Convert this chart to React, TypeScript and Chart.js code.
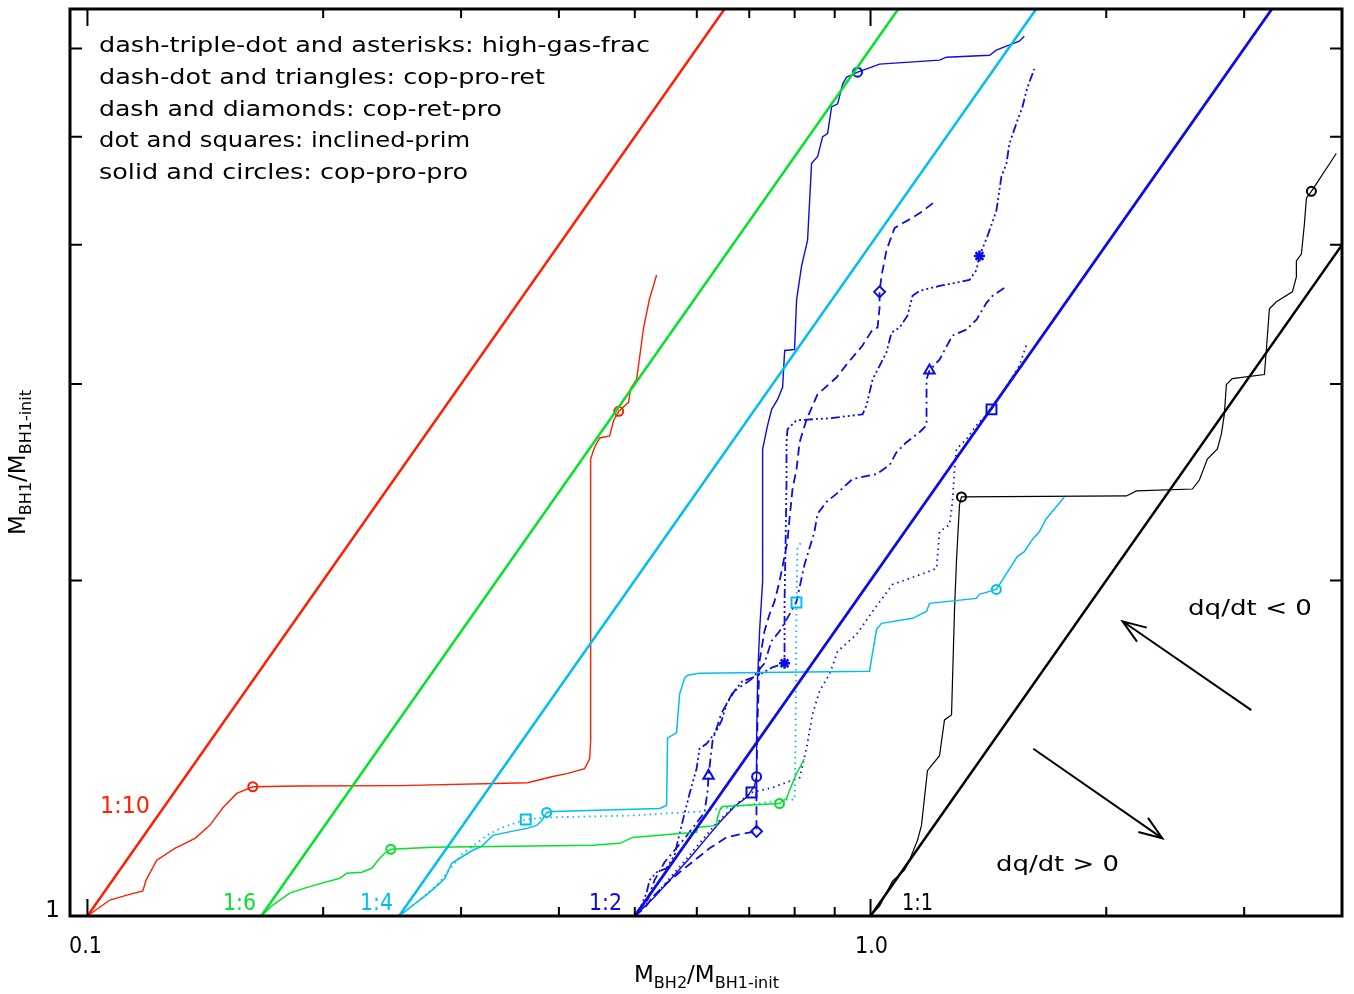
import React, { useEffect, useRef } from "react";
import { Chart, registerables } from "chart.js";

Chart.register(...registerables);

type Pt = [number, number];

const FONT = '"DejaVu Sans", "Liberation Sans", sans-serif';

const X_MIN = 0.095;
const X_MAX = 4;
const Y_MIN = 1;
const Y_MAX = 6.51;

const xTickValues = [0.1, 0.2, 0.3, 0.4, 0.5, 0.6, 0.7, 0.8, 0.9, 1, 2, 3];
const xMajorTicks = [0.1, 1];
const yTickValues = [2, 3, 4, 5, 6];
const xTickLabels = ["0.1", "1.0"];
const yTickLabels = ["1"];
const ratioLabels = ["1:10", "1:6", "1:4", "1:2", "1:1"];
const legendLines = [
  "dash-triple-dot and asterisks: high-gas-frac",
  "dash-dot and triangles: cop-pro-ret",
  "dash and diamonds: cop-ret-pro",
  "dot and squares: inclined-prim",
  "solid and circles: cop-pro-pro",
];
const arrowLabels = ["dq/dt < 0", "dq/dt > 0"];

const RED = "rgb(255,30,0)";
const GREEN = "rgb(0,228,40)";
const CYAN = "rgb(0,190,240)";
const BLUE = "rgb(12,12,230)";
const BLACK = "#000";

// constant mass-ratio lines
const ratio10: Pt[] = [[0.1, 1], [0.7, 7]];
const ratio6: Pt[] = [[0.1667, 1], [1.1667, 7]];
const ratio4: Pt[] = [[0.25, 1], [1.75, 7]];
const ratio2: Pt[] = [[0.5, 1], [3.5, 7]];
const ratio1: Pt[] = [[1, 1], [7, 7]];

// arrows (tail, tip) in data units
const arrowUp: Pt[] = [[3.064, 1.53], [2.098, 1.838]];
const arrowDown: Pt[] = [[1.614, 1.4125], [2.359, 1.174]];

// 1:10 cop-pro-pro
const redSolid: Pt[] = [[0.1, 1], [0.1068, 1.0335], [0.1123, 1.0441], [0.1177, 1.053], [0.1188, 1.077], [0.1226, 1.122], [0.1293, 1.15], [0.1372, 1.174], [0.1433, 1.206], [0.149, 1.251], [0.1551, 1.288], [0.1626, 1.306], [0.1867, 1.308], [0.2506, 1.309], [0.3649, 1.317], [0.3928, 1.334], [0.4093, 1.342], [0.4315, 1.356], [0.4379, 1.384], [0.4391, 1.436], [0.4391, 1.915], [0.4391, 2.57], [0.4443, 2.634], [0.451, 2.684], [0.4644, 2.695], [0.4699, 2.784], [0.4769, 2.836], [0.491, 2.889], [0.4939, 2.973], [0.5027, 3.029], [0.5131, 3.372], [0.5222, 3.578], [0.5331, 3.758]];
const redCircles: Pt[] = [[0.1626, 1.306], [0.4769, 2.836]];

// 1:6 cop-pro-pro
const greenSolid: Pt[] = [[0.1667, 1], [0.1725, 1.0229], [0.1813, 1.0484], [0.1895, 1.0593], [0.1992, 1.0702], [0.2101, 1.0812], [0.2144, 1.0924], [0.2241, 1.0947], [0.2307, 1.1036], [0.2362, 1.1267], [0.2397, 1.1384], [0.244, 1.1478], [0.2761, 1.1524], [0.4417, 1.1571], [0.4783, 1.1619], [0.4969, 1.1763], [0.5704, 1.186], [0.5996, 1.1885], [0.6013, 1.2008], [0.6358, 1.2057], [0.6377, 1.2257], [0.6433, 1.2487], [0.6472, 1.254], [0.7651, 1.2616], [0.7811, 1.2747], [0.788, 1.2958], [0.8043, 1.3417], [0.8235, 1.3837]];
const greenCircles: Pt[] = [[0.244, 1.1478], [0.7651, 1.2616]];

// 1:4 cop-pro-pro and inclined-prim
const cyanSolid: Pt[] = [[0.25, 1], [0.2596, 1.0208], [0.2697, 1.042], [0.2793, 1.0636], [0.286, 1.0812], [0.2919, 1.1151], [0.2988, 1.1267], [0.3105, 1.1454], [0.3188, 1.1548], [0.3292, 1.1812], [0.3431, 1.1885], [0.3639, 1.1984], [0.3747, 1.2057], [0.3803, 1.2181], [0.3859, 1.2384], [0.3928, 1.2409], [0.5378, 1.2487], [0.549, 1.2564], [0.5506, 1.4448], [0.5653, 1.4597], [0.5704, 1.5814], [0.5788, 1.6342], [0.5839, 1.6444], [0.6047, 1.6512], [0.997, 1.658], [1.0118, 1.7637], [1.0178, 1.8077], [1.0327, 1.8302], [1.1314, 1.8493], [1.179, 1.876], [1.1893, 1.9075], [1.3653, 1.927], [1.3773, 1.943], [1.4477, 1.963], [1.5397, 2.1007], [1.5716, 2.1225], [1.6089, 2.1755], [1.6426, 2.2115], [1.6767, 2.2716], [1.7679, 2.3764]];
const cyanCircles: Pt[] = [[0.3859, 1.2384], [1.4477, 1.963]];
const cyanDotted: Pt[] = [[0.25, 1], [0.2658, 1.0335], [0.2818, 1.0724], [0.2928, 1.1104], [0.3015, 1.1384], [0.3141, 1.1619], [0.3235, 1.1812], [0.3391, 1.2008], [0.3533, 1.2131], [0.3628, 1.2207], [0.3859, 1.2257], [0.4968, 1.2307], [0.6047, 1.2409], [0.7811, 1.2721], [0.7998, 1.2721], [0.8021, 1.4361], [0.8043, 1.9107], [0.8067, 2.1352], [0.8187, 2.1755]];
const cyanSquares: Pt[] = [[0.3628, 1.2207], [0.8043, 1.9107]];

// 1:2 runs
const blueSolid: Pt[] = [[0.5, 1], [0.5299, 1.0398], [0.5571, 1.0812], [0.5873, 1.1267], [0.6138, 1.1691], [0.6414, 1.2131], [0.6704, 1.254], [0.6966, 1.28], [0.711, 1.3092], [0.7153, 1.3335], [0.7153, 1.4361], [0.7175, 1.6342], [0.7216, 1.8003], [0.7281, 1.9953], [0.7281, 2.6236], [0.7388, 2.7552], [0.7477, 2.8473], [0.7609, 2.9063], [0.7722, 2.9797], [0.7769, 3.2155], [0.7998, 3.222], [0.8046, 3.5704], [0.8164, 3.8282], [0.831, 4.0388], [0.8408, 4.7315], [0.856, 4.8005], [0.8687, 5.0016], [0.8814, 5.0326], [0.8918, 5.3183], [0.9078, 5.3514], [0.9213, 5.5753], [0.9322, 5.6563], [0.9625, 5.714], [1.003, 5.7735], [1.0268, 5.8094], [1.2249, 5.8577], [1.2503, 5.8929], [1.419, 5.9174], [1.4477, 5.979], [1.4909, 6.0288], [1.549, 6.0911], [1.5716, 6.1546]];
const blueCircles: Pt[] = [[0.7153, 1.3335], [0.9625, 5.714]];
const blueDotted: Pt[] = [[0.5, 1], [0.5378, 1.0549], [0.5873, 1.1337], [0.6322, 1.2057], [0.6704, 1.2564], [0.7046, 1.2906], [0.7495, 1.3039], [0.8119, 1.3309], [0.8287, 1.4155], [0.8433, 1.5182], [0.8608, 1.5916], [0.8864, 1.6478], [0.9078, 1.7276], [0.9597, 1.789], [1.006, 1.876], [1.0668, 1.983], [1.1117, 2.0036], [1.2142, 2.0494], [1.2249, 2.2115], [1.2613, 2.2439], [1.2724, 2.3519], [1.28, 2.5176], [1.2877, 2.6236], [1.326, 2.678], [1.3655, 2.7552], [1.4271, 2.8473], [1.4741, 2.9489], [1.549, 3.1168], [1.5858, 3.269]];
const blueSquares: Pt[] = [[0.7046, 1.2906], [1.4271, 2.8473]];
const blueDashDot: Pt[] = [[0.5, 1], [0.5191, 1.0335], [0.5299, 1.0768], [0.5457, 1.1174], [0.562, 1.1454], [0.5789, 1.1739], [0.5961, 1.2057], [0.6138, 1.2384], [0.6194, 1.2958], [0.6211, 1.3363], [0.6285, 1.4361], [0.6452, 1.521], [0.6703, 1.5916], [0.7046, 1.6311], [0.732, 1.6853], [0.7473, 1.7637], [0.7652, 1.8003], [0.788, 1.8643], [0.8045, 1.915], [0.8235, 2.066], [0.848, 2.2115], [0.8556, 2.2951], [0.8785, 2.3519], [0.9047, 2.3913], [0.9483, 2.466], [1.0178, 2.4911], [1.0576, 2.5381], [1.0795, 2.607], [1.1117, 2.6607], [1.1548, 2.7159], [1.179, 2.7552], [1.179, 3.0286], [1.1893, 3.085], [1.2249, 3.1556], [1.2723, 3.3163], [1.326, 3.3578], [1.3656, 3.4274], [1.4064, 3.5481], [1.4313, 3.5999], [1.4958, 3.6745]];
const blueTriangles: Pt[] = [[0.6211, 1.3363], [1.1893, 3.085]];
const blueDashed: Pt[] = [[0.5, 1], [0.5146, 1.0166], [0.5299, 1.0441], [0.5457, 1.0659], [0.5704, 1.0947], [0.5961, 1.122], [0.6229, 1.15], [0.6548, 1.1763], [0.6803, 1.1836], [0.7151, 1.191], [0.7151, 1.3227], [0.7173, 1.4962], [0.7215, 1.6922], [0.732, 1.8003], [0.7429, 1.8643], [0.754, 1.915], [0.7652, 1.9953], [0.7832, 2.1665], [0.788, 2.2716], [0.795, 2.4155], [0.8045, 2.5176], [0.8118, 2.6607], [0.8287, 2.7898], [0.8556, 2.937], [0.9047, 3.0409], [0.9317, 3.1229], [0.9767, 3.2488], [1.006, 3.3578], [1.0209, 3.3712], [1.0269, 3.5126], [1.0269, 3.6296], [1.0328, 3.751], [1.0481, 3.9561], [1.0731, 4.14], [1.0986, 4.1823], [1.128, 4.2254], [1.165, 4.2866], [1.2139, 4.3853]];
const blueDiamonds: Pt[] = [[0.7151, 1.191], [1.0269, 3.6296]];
const blueDash3Dot: Pt[] = [[0.5, 1], [0.51, 1.0229], [0.5175, 1.0484], [0.5222, 1.0768], [0.5331, 1.0947], [0.549, 1.1036], [0.562, 1.1337], [0.5704, 1.186], [0.5788, 1.2359], [0.5874, 1.288], [0.5996, 1.3557], [0.6048, 1.4125], [0.6174, 1.4272], [0.6358, 1.466], [0.6452, 1.4962], [0.6548, 1.5495], [0.6664, 1.5849], [0.6863, 1.6241], [0.7151, 1.6409], [0.7495, 1.6715], [0.7766, 1.6853], [0.7766, 1.915], [0.779, 2.1665], [0.7811, 2.4507], [0.7811, 2.6607], [0.7834, 2.7333], [0.8045, 2.7841], [0.8864, 2.7956], [0.9767, 2.8184], [0.9883, 2.8708], [1.006, 3.0286], [1.0479, 3.2027], [1.0636, 3.3367], [1.0889, 3.3712], [1.1148, 3.4553], [1.1314, 3.5999], [1.1548, 3.637], [1.2249, 3.6745], [1.3377, 3.7196], [1.3656, 3.7975], [1.3775, 3.9084], [1.4103, 4.0717], [1.4481, 4.2954], [1.4695, 4.6067], [1.4913, 4.7315], [1.5044, 4.9307], [1.5399, 5.1691], [1.5631, 5.3183], [1.5815, 5.496], [1.5955, 5.6008], [1.6191, 5.7526]];
const blueAsterisks: Pt[] = [[0.7766, 1.6853], [1.3775, 3.9084]];

// 1:1 cop-pro-pro
const blackSolid: Pt[] = [[1, 1], [1.0268, 1.0208], [1.0666, 1.0746], [1.1049, 1.0991], [1.1213, 1.122], [1.148, 1.1691], [1.1616, 1.2057], [1.1821, 1.3502], [1.1961, 1.364], [1.2249, 1.3924], [1.2429, 1.4993], [1.2689, 1.5148], [1.28, 1.8799], [1.2877, 2.0873], [1.299, 2.3378], [1.3065, 2.3764], [2.1222, 2.3813], [2.1857, 2.4061], [2.5763, 2.4155], [2.6298, 2.4606], [2.6923, 2.5698], [2.7727, 2.6236], [2.8054, 2.7054], [2.8302, 2.8184], [2.8472, 2.9975], [2.8975, 3.0344], [3.1838, 3.0596], [3.2023, 3.2208], [3.2311, 3.5045], [3.2981, 3.5557], [3.4569, 3.6296], [3.4978, 3.7433], [3.4978, 3.8685], [3.5497, 3.9249], [3.5811, 4.174], [3.6026, 4.4042], [3.6556, 4.4668], [3.9331, 4.8305]];
const blackCircles: Pt[] = [[1.3065, 2.3764], [3.6556, 4.4668]];

const xy = (d: Pt[]) => d.map(([x, y]) => ({ x, y }));

function lineDs(d: Pt[], color: string, width: number, dash: number[] = []) {
  return {
    data: xy(d),
    showLine: true,
    borderColor: color,
    borderWidth: width,
    borderDash: dash,
    pointRadius: 0,
    pointHoverRadius: 0,
    fill: false,
    tension: 0,
  };
}

function markerDs(d: Pt[], color: string, style: string, radius: number, bw = 2) {
  return {
    data: xy(d),
    showLine: false,
    pointStyle: style,
    pointRadius: radius,
    pointHoverRadius: radius,
    pointBorderColor: color,
    pointBackgroundColor: "rgba(0,0,0,0)",
    pointBorderWidth: bw,
    borderColor: color,
    backgroundColor: "rgba(0,0,0,0)",
  };
}

function drawFit(ctx: CanvasRenderingContext2D, text: string, left: number, baseline: number, width: number, size: number, color: string) {
  ctx.save();
  ctx.font = `${size}px ${FONT}`;
  ctx.fillStyle = color;
  ctx.textAlign = "left";
  ctx.textBaseline = "alphabetic";
  const m = ctx.measureText(text).width;
  ctx.translate(left, baseline);
  ctx.scale(width / m, 1);
  ctx.fillText(text, 0, 0);
  ctx.restore();
}

function drawSubTitle(ctx: CanvasRenderingContext2D, parts: [string, boolean][], width: number) {
  const big = `23px ${FONT}`;
  const small = `16px ${FONT}`;
  let total = 0;
  for (const [t, sub] of parts) {
    ctx.font = sub ? small : big;
    total += ctx.measureText(t).width;
  }
  ctx.scale(width / total, 1);
  let x = 0;
  ctx.fillStyle = BLACK;
  ctx.textBaseline = "alphabetic";
  ctx.textAlign = "left";
  for (const [t, sub] of parts) {
    ctx.font = sub ? small : big;
    ctx.fillText(t, x, sub ? 6 : 0);
    x += ctx.measureText(t).width;
  }
}

const annotationPlugin = {
  id: "idlFrame",
  afterDatasetsDraw(chart: any) {
    const { ctx, chartArea: a, scales } = chart;
    const xs = scales.x;
    const ys = scales.y;
    ctx.save();

    // arrows
    ctx.strokeStyle = BLACK;
    ctx.lineWidth = 2;
    for (const arr of [arrowUp, arrowDown]) {
      const x0 = xs.getPixelForValue(arr[0][0]);
      const y0 = ys.getPixelForValue(arr[0][1]);
      const x1 = xs.getPixelForValue(arr[1][0]);
      const y1 = ys.getPixelForValue(arr[1][1]);
      ctx.beginPath();
      ctx.moveTo(x0, y0);
      ctx.lineTo(x1, y1);
      const ang = Math.atan2(y0 - y1, x0 - x1);
      const L = 25;
      const h = (20 * Math.PI) / 180;
      ctx.moveTo(x1 + L * Math.cos(ang - h), y1 + L * Math.sin(ang - h));
      ctx.lineTo(x1, y1);
      ctx.lineTo(x1 + L * Math.cos(ang + h), y1 + L * Math.sin(ang + h));
      ctx.stroke();
    }

    // ticks (inward, all four sides)
    ctx.lineWidth = 2;
    ctx.beginPath();
    for (const v of xTickValues) {
      const px = xs.getPixelForValue(v);
      const len = xMajorTicks.includes(v) ? 17 : 9;
      ctx.moveTo(px, a.bottom);
      ctx.lineTo(px, a.bottom - len);
      ctx.moveTo(px, a.top);
      ctx.lineTo(px, a.top + len);
    }
    for (const v of yTickValues) {
      const py = ys.getPixelForValue(v);
      ctx.moveTo(a.left, py);
      ctx.lineTo(a.left + 12, py);
      ctx.moveTo(a.right, py);
      ctx.lineTo(a.right - 12, py);
    }
    ctx.stroke();

    // frame
    ctx.lineWidth = 3;
    ctx.strokeRect(a.left, a.top, a.right - a.left, a.bottom - a.top);

    // tick labels
    drawFit(ctx, xTickLabels[0], 69, 953, 33, 23, BLACK);
    drawFit(ctx, xTickLabels[1], 855, 953, 33, 23, BLACK);
    ctx.font = `23px ${FONT}`;
    ctx.fillStyle = BLACK;
    ctx.textAlign = "right";
    ctx.textBaseline = "alphabetic";
    ctx.fillText(yTickLabels[0], 60, 917);

    // legend text
    const legendBase = [52, 84, 116, 147, 179];
    const legendW = [551, 446, 403, 371, 369];
    legendLines.forEach((t, i) => drawFit(ctx, t, 99, legendBase[i], legendW[i], 22, BLACK));

    // ratio labels
    drawFit(ctx, ratioLabels[0], 100, 813, 50, 23, RED);
    drawFit(ctx, ratioLabels[1], 223, 910, 33, 23, GREEN);
    drawFit(ctx, ratioLabels[2], 360, 910, 33, 23, CYAN);
    drawFit(ctx, ratioLabels[3], 589, 910, 33, 23, BLUE);
    drawFit(ctx, ratioLabels[4], 902, 910, 31, 23, BLACK);

    // arrow labels
    drawFit(ctx, arrowLabels[0], 1188, 615, 124, 22, BLACK);
    drawFit(ctx, arrowLabels[1], 996, 871, 123, 22, BLACK);

    // axis titles
    ctx.save();
    ctx.translate(634, 982);
    drawSubTitle(ctx, [["M", false], ["BH2", true], ["/", false], ["M", false], ["BH1-init", true]], 145);
    ctx.restore();

    ctx.save();
    ctx.translate(25, 535);
    ctx.rotate(-Math.PI / 2);
    drawSubTitle(ctx, [["M", false], ["BH1", true], ["/", false], ["M", false], ["BH1-init", true]], 145);
    ctx.restore();

    ctx.restore();
  },
};

export default function App() {
  const ref = useRef<HTMLCanvasElement | null>(null);

  useEffect(() => {
    if (!ref.current) return;
    const datasets: any[] = [
      lineDs(ratio10, RED, 2.5),
      lineDs(ratio6, GREEN, 2.5),
      lineDs(ratio4, CYAN, 2.5),
      lineDs(ratio2, BLUE, 2.8),
      lineDs(ratio1, BLACK, 2.5),
      lineDs(redSolid, RED, 1.4),
      markerDs(redCircles, RED, "circle", 4.5),
      lineDs(greenSolid, GREEN, 1.5),
      markerDs(greenCircles, GREEN, "circle", 4.5),
      lineDs(cyanSolid, CYAN, 1.5),
      markerDs(cyanCircles, CYAN, "circle", 4.5),
      lineDs(cyanDotted, CYAN, 1.8, [1.5, 4]),
      markerDs(cyanSquares, CYAN, "rect", 7),
      lineDs(blueSolid, BLUE, 1.4),
      markerDs(blueCircles, BLUE, "circle", 4.5),
      lineDs(blueDotted, BLUE, 1.8, [1.5, 4]),
      markerDs(blueSquares, BLUE, "rect", 7),
      lineDs(blueDashDot, BLUE, 1.8, [9, 4, 2, 4]),
      markerDs(blueTriangles, BLUE, "triangle", 6),
      lineDs(blueDashed, BLUE, 1.8, [9, 5]),
      markerDs(blueDiamonds, BLUE, "rectRot", 5.5),
      lineDs(blueDash3Dot, BLUE, 1.8, [9, 3, 2, 3, 2, 3, 2, 3]),
      markerDs(blueAsterisks, BLUE, "star", 5.5, 2.5),
      lineDs(blackSolid, BLACK, 1.2),
      markerDs(blackCircles, BLACK, "circle", 4.5),
    ];

    const chart = new Chart(ref.current, {
      type: "scatter",
      data: { datasets },
      options: {
        animation: false,
        responsive: false,
        devicePixelRatio: 1,
        events: [],
        layout: { padding: { left: 70, right: 12, top: 5, bottom: 78 } },
        plugins: {
          legend: { display: false },
          tooltip: { enabled: false },
        },
        scales: {
          x: { type: "logarithmic", min: X_MIN, max: X_MAX, display: false, bounds: "data" },
          y: { type: "logarithmic", min: Y_MIN, max: Y_MAX, display: false, bounds: "data" },
        },
      } as any,
      plugins: [annotationPlugin],
    });
    return () => chart.destroy();
  }, []);

  return (
    <div style={{ position: "fixed", left: 0, top: 0, width: 1354, height: 994, background: "#fff" }}>
      <canvas ref={ref} width={1354} height={994} style={{ display: "block" }} />
    </div>
  );
}
